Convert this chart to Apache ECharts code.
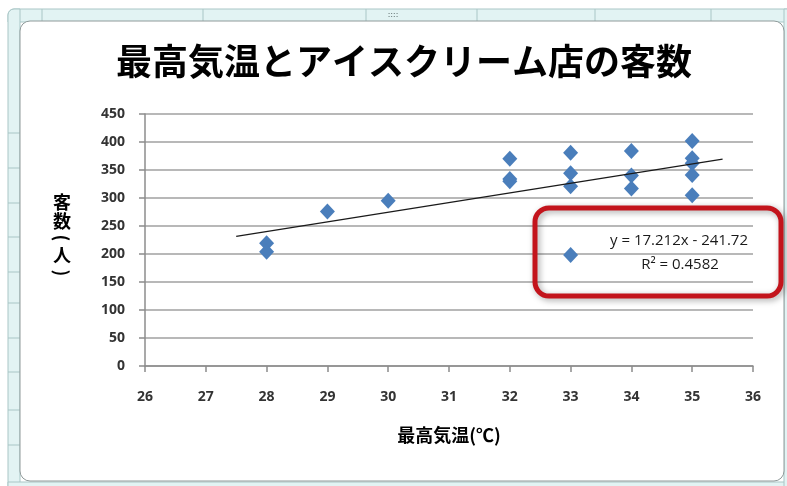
<!DOCTYPE html>
<html>
<head>
<meta charset="utf-8">
<script src="https://cdn.jsdelivr.net/npm/echarts@6/dist/echarts.min.js"></script>
<style>
html,body{margin:0;padding:0;background:#ffffff;}
#main{width:787px;height:486px;}
</style>
</head>
<body>
<div id="main"></div>
<script>
// ---- data ----
const titleText = '最高気温とアイスクリーム店の客数';
const xAxisName = '最高気温(℃)';
const yAxisName = '客数(人)';
const temps    = [28, 28, 29, 30, 32, 32, 32, 33, 33, 33, 33, 34, 34, 34, 35, 35, 35, 35, 35];
const visitors = [219, 204, 276, 295, 370, 334, 330, 381, 344, 321, 198, 384, 340, 317, 402, 371, 362, 341, 305];
const trendSlope = 17.212;
const trendIntercept = -241.72;
const trendRange = [27.5, 35.5];
const eqText = 'y = 17.212x - 241.72';
const r2Text = 'R² = 0.4582';
const xTicks = [26, 36, 1];
const yTicks = [0, 450, 50];

const points = temps.map((t, i) => [t, visitors[i]]);
const trendPts = trendRange.map(x => [x, trendSlope * x + trendIntercept]);

const chart = echarts.init(document.getElementById('main'));

const frameFill = '#e2f3f3';
const frameStroke = '#a9c6c6';
const bg = [];
bg.push({type:'rect', z:-20, shape:{x:8,y:9,width:800,height:13,r:[6,0,0,0]}, style:{fill:frameFill, stroke:frameStroke, lineWidth:1}});
bg.push({type:'rect', z:-20, shape:{x:8,y:9,width:12,height:490,r:[6,0,0,0]}, style:{fill:frameFill, stroke:frameStroke, lineWidth:1}});
bg.push({type:'rect', z:-20, shape:{x:8,y:482,width:800,height:10}, style:{fill:frameFill, stroke:frameStroke, lineWidth:1}});
bg.push({type:'rect', z:-20, shape:{x:784,y:9,width:10,height:490}, style:{fill:frameFill, stroke:frameStroke, lineWidth:1}});
[42, 203, 366, 477, 595, 711].forEach(x => bg.push({type:'line', z:-19, shape:{x1:x,y1:9,x2:x,y2:22}, style:{stroke:frameStroke, lineWidth:1}}));
[133, 168, 203, 237, 272, 303, 338, 372, 410, 445].forEach(y => bg.push({type:'line', z:-19, shape:{x1:8,y1:y,x2:20,y2:y}, style:{stroke:frameStroke, lineWidth:1}}));
bg.push({type:'rect', z:-10, shape:{x:20,y:21,width:764,height:460,r:10}, style:{fill:'#ffffff', stroke:'#8f9a9a', lineWidth:1}});
bg.push({type:'text', z:-9, style:{x:393, y:15, text:'::::', fill:'#7a8a8a', font:'bold 8px sans-serif', align:'center', verticalAlign:'middle'}});

// vertical y-axis title, characters stacked, parentheses turned
const yNameFont = 'bold 18px "Noto Sans CJK JP", sans-serif';
const yChars = Array.from(yAxisName);
const yCharPos = [202, 221, 238, 255, 273];
const yName = yChars.map((c, i) => {
  const isParen = (c === '(' || c === ')');
  return {
    type:'text', z:50, x:62, y:yCharPos[i], rotation: isParen ? -Math.PI/2 : 0,
    style:{text:c, font:yNameFont, fill:'#000', align:'center', verticalAlign:'middle'}
  };
});

const overlay = [
  {type:'rect', z:100, shape:{x:535,y:208,width:246,height:88,r:14},
   style:{fill:'rgba(0,0,0,0)', stroke:'#c3141c', lineWidth:5, shadowBlur:6, shadowColor:'rgba(0,0,0,0.35)', shadowOffsetX:2, shadowOffsetY:2}},
  {type:'text', z:101, style:{x:679, y:241, text:eqText, fill:'#1a1a1a', font:'15px "Open Sans", sans-serif', align:'center', verticalAlign:'middle'}},
  {type:'text', z:101, style:{x:680, y:265, text:r2Text, fill:'#1a1a1a', font:'15px "Open Sans", sans-serif', align:'center', verticalAlign:'middle'}}
];

const axisFont = {fontFamily:'"Open Sans", "Noto Sans", sans-serif', fontSize:14, fontWeight:'bold', color:'#333'};

chart.setOption({
  animation:false,
  backgroundColor:'#ffffff',
  title:{
    text:titleText, left:111, top:38,
    textStyle:{fontFamily:'"Noto Sans CJK JP", sans-serif', fontSize:36, fontWeight:'bold', color:'#000'}
  },
  grid:{left:145, right:34, top:114, bottom:120},
  xAxis:{
    type:'value', min:xTicks[0], max:xTicks[1], interval:xTicks[2],
    name:xAxisName, nameLocation:'middle', nameGap:60,
    nameTextStyle:{fontFamily:'"Noto Sans CJK JP", sans-serif', fontSize:18, fontWeight:'bold', color:'#000'},
    axisLine:{show:true, onZero:false, lineStyle:{color:'#8c8c8c', width:1.5}},
    axisTick:{show:true, length:6, lineStyle:{color:'#8c8c8c', width:1.5}},
    axisLabel:Object.assign({margin:24}, axisFont),
    splitLine:{show:false}
  },
  yAxis:{
    type:'value', min:yTicks[0], max:yTicks[1], interval:yTicks[2],
    axisLine:{show:true, lineStyle:{color:'#8c8c8c', width:1.5}},
    axisTick:{show:true, length:6, lineStyle:{color:'#8c8c8c', width:1.5}},
    axisLabel:Object.assign({margin:20}, axisFont),
    splitLine:{show:true, lineStyle:{color:'#a0a0a0', width:1.5}}
  },
  graphic:{elements: bg.concat(yName, overlay)},
  series:[
    {
      type:'scatter', data:points, symbol:'diamond', symbolSize:[15,16],
      itemStyle:{color:'#4a7ebb', opacity:1}, z:3
    },
    {
      type:'line', data:trendPts, symbol:'none', silent:true,
      lineStyle:{color:'#1a1a1a', width:1.3}, z:4
    }
  ]
});
</script>
</body>
</html>
